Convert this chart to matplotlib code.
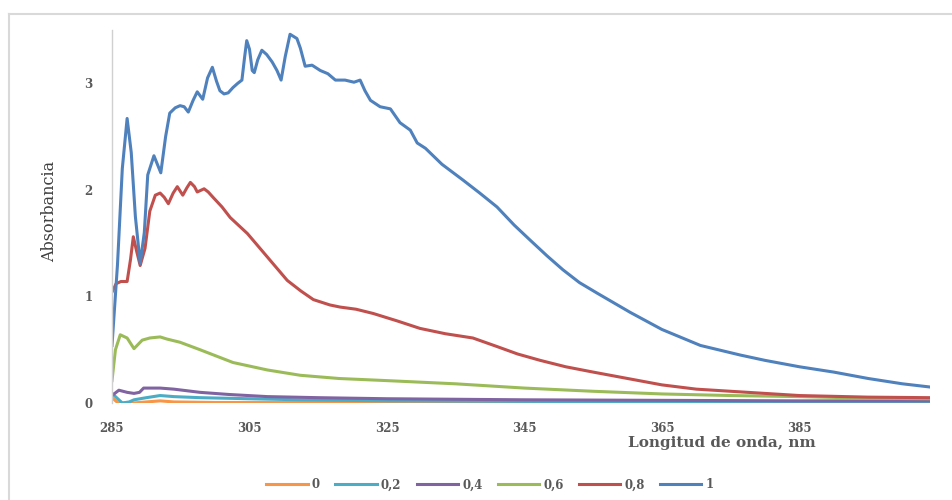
import numpy as np
import matplotlib
matplotlib.use('Agg')
import matplotlib.pyplot as plt
from matplotlib.lines import Line2D

# wavelength (nm) / absorbance
wl_1 = [285.0, 285.8, 286.5, 287.2, 287.8, 288.4, 289.1, 289.7, 290.2, 291.1, 292.1, 292.8,
        293.4, 294.2, 294.9, 295.5, 296.1, 296.8, 297.4, 298.2, 298.9, 299.6, 300.2, 300.7,
        301.3, 301.9, 302.6, 303.3, 303.9, 304.3, 304.6, 305.0, 305.4, 305.7, 306.2, 306.8,
        307.5, 308.3, 309.0, 309.6, 310.2, 310.9, 311.9, 312.4, 313.1, 314.1, 315.3, 316.4,
        317.5, 318.9, 320.2, 321.1, 321.8, 322.6, 324.0, 325.5, 326.9, 328.4, 329.4, 330.6,
        333.0, 336.1, 338.5, 341.0, 343.5, 345.8, 348.3, 350.6, 353.0, 355.6, 358.0, 360.4,
        365.0, 370.6, 376.4, 380.0, 385.0, 390.0, 395.0, 400.0, 404.0]
abs_1 = [0.54, 1.30, 2.20, 2.67, 2.35, 1.75, 1.31, 1.60, 2.14, 2.32, 2.16, 2.50,
         2.72, 2.77, 2.79, 2.78, 2.73, 2.84, 2.92, 2.85, 3.05, 3.15, 3.02, 2.93,
         2.90, 2.91, 2.96, 3.00, 3.03, 3.25, 3.40, 3.32, 3.12, 3.10, 3.22, 3.31,
         3.27, 3.20, 3.12, 3.03, 3.25, 3.46, 3.42, 3.33, 3.16, 3.17, 3.12, 3.09,
         3.03, 3.03, 3.01, 3.03, 2.93, 2.84, 2.78, 2.76, 2.63, 2.56, 2.44, 2.39,
         2.24, 2.09, 1.97, 1.84, 1.67, 1.53, 1.38, 1.25, 1.13, 1.03, 0.94, 0.85,
         0.69, 0.54, 0.45, 0.40, 0.34, 0.29, 0.23, 0.18, 0.15]

wl_08 = [285.0, 285.6, 286.3, 287.2, 287.7, 288.1, 288.6, 289.1, 289.8, 290.5, 291.3, 292.0,
         292.6, 293.2, 293.9, 294.5, 295.3, 295.9, 296.4, 297.0, 297.4, 298.4, 299.0, 299.7,
         301.0, 302.2, 304.7, 307.6, 310.5, 312.5, 314.3, 316.7, 318.2, 320.5, 323.0, 326.5,
         329.8, 333.5, 337.5, 341.0, 344.0, 347.3, 351.0, 355.0, 360.0, 365.0, 370.0, 375.0,
         380.0, 385.0, 395.0, 404.0]
abs_08 = [1.04, 1.12, 1.14, 1.14, 1.35, 1.56, 1.42, 1.29, 1.45, 1.80, 1.95, 1.97,
          1.93, 1.87, 1.97, 2.03, 1.95, 2.02, 2.07, 2.03, 1.98, 2.01, 1.98, 1.93,
          1.84, 1.74, 1.59, 1.37, 1.15, 1.05, 0.97, 0.92, 0.90, 0.88, 0.84, 0.77,
          0.70, 0.65, 0.61, 0.53, 0.46, 0.40, 0.34, 0.29, 0.23, 0.17, 0.13, 0.11,
          0.09, 0.07, 0.055, 0.05]

wl_06 = [285.0, 285.5, 286.2, 287.2, 288.2, 289.4, 290.5, 292.0, 293.0, 294.9, 297.8, 302.6,
         307.6, 312.4, 318.0, 325.0, 335.0, 345.0, 355.0, 365.0, 375.0, 385.0, 395.0, 404.0]
abs_06 = [0.21, 0.50, 0.64, 0.61, 0.51, 0.59, 0.61, 0.62, 0.60, 0.57, 0.50, 0.38,
          0.31, 0.26, 0.23, 0.21, 0.18, 0.14, 0.11, 0.085, 0.07, 0.06, 0.045, 0.04]

wl_04 = [285.0, 286.0, 287.2, 288.2, 289.0, 289.6, 292.0, 294.0, 297.8, 302.0, 307.6, 315.0,
         325.0, 345.0, 365.0, 385.0, 404.0]
abs_04 = [0.07, 0.12, 0.10, 0.09, 0.10, 0.14, 0.14, 0.13, 0.10, 0.08, 0.06, 0.05,
          0.04, 0.03, 0.025, 0.02, 0.02]

wl_02 = [285.0, 286.0, 286.5, 287.5, 288.2, 290.0, 292.0, 294.0, 297.8, 305.0, 312.4, 325.0,
         345.0, 365.0, 385.0, 404.0]
abs_02 = [0.09, 0.03, 0.0, 0.01, 0.03, 0.05, 0.07, 0.06, 0.05, 0.04, 0.03, 0.02,
          0.015, 0.012, 0.01, 0.01]

wl_0 = [285.0, 285.9, 288.0, 290.0, 292.0, 294.0, 300.0, 404.0]
abs_0 = [0.05, 0.0, 0.0, 0.01, 0.02, 0.01, 0.005, 0.005]

labels = ['0', '0,2', '0,4', '0,6', '0,8', '1']
colors = ['#F79646', '#4BACC6', '#8064A2', '#9BBB59', '#C0504D', '#4F81BD']
series = [(wl_0, abs_0), (wl_02, abs_02), (wl_04, abs_04),
          (wl_06, abs_06), (wl_08, abs_08), (wl_1, abs_1)]

xticks = [285, 305, 325, 345, 365, 385]
yticks = [0, 1, 2, 3]

tick_font = dict(family='DejaVu Serif', weight='bold', size=8.5, color='#595959')

fig = plt.figure(figsize=(9.52, 5.0), dpi=100)
ax = fig.add_axes([112 / 952, 97 / 500, 818 / 952, 373 / 500])

for (x, y), c, lab in zip(series, colors, labels):
    ax.plot(x, y, color=c, lw=2.2, label=lab, solid_joinstyle='round')

ax.set_xlim(285, 404)
ax.set_ylim(0, 3.5)
ax.set_xticks(xticks)
ax.set_yticks(yticks)
ax.set_xticklabels([str(t) for t in xticks], fontdict=tick_font)
ax.set_yticklabels([str(t) for t in yticks], fontdict=tick_font)
ax.tick_params(length=0)
ax.tick_params(axis='x', pad=14)
ax.tick_params(axis='y', pad=14)
for s in ['top', 'right', 'bottom']:
    ax.spines[s].set_visible(False)
ax.spines['left'].set_color('#D0D0D0')
ax.spines['left'].set_linewidth(1.0)

fig.text(722 / 952, 1 - 443 / 500, 'Longitud de onda, nm', ha='center', va='center',
         family='DejaVu Serif', weight='bold', size=11, color='#595959')
fig.text(50 / 952, 1 - 211 / 500, 'Absorbancia', ha='center', va='center', rotation=90,
         family='DejaVu Serif', size=11.5, color='#404040')

handles = [Line2D([], [], color=c, lw=2.2) for c in colors]
leg = fig.legend(handles, labels, loc='center', bbox_to_anchor=(490 / 952, 1 - 485 / 500),
                 ncol=6, frameon=False, handlelength=3.5, columnspacing=1.3, handletextpad=0.35,
                 prop=dict(family='DejaVu Serif', weight='bold', size=8.5))
for t in leg.get_texts():
    t.set_color('#595959')

# chart-area border (left and top edges visible)
fig.add_artist(plt.Line2D([8.5 / 952, 8.5 / 952], [0, 1 - 14 / 500], color='#D9D9D9', lw=1.5,
                          transform=fig.transFigure))
fig.add_artist(plt.Line2D([8.5 / 952, 1], [1 - 14 / 500, 1 - 14 / 500], color='#D9D9D9', lw=1.5,
                          transform=fig.transFigure))

fig.savefig('out.png', dpi=100)
